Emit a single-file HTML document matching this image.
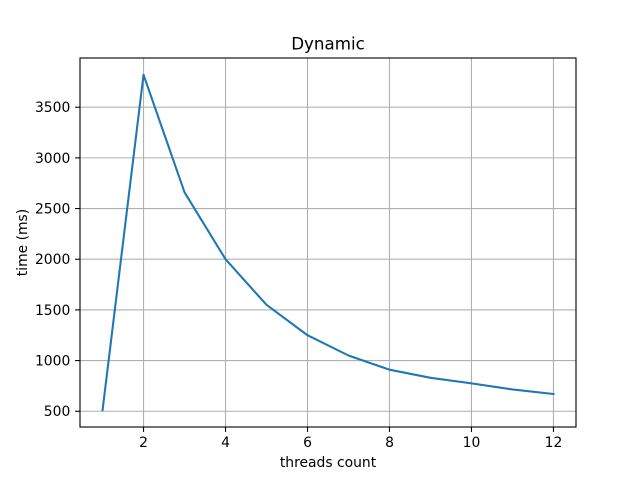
<!DOCTYPE html>
<html><head><meta charset="utf-8"><style>
body{margin:0;background:#fff;}
svg text{font-family:"DejaVu Sans","Liberation Sans",sans-serif;fill:#000;}
</style></head><body>
<svg width="640" height="480" viewBox="0 0 640 480">
<rect width="640" height="480" fill="#fff"/>
<g id="grid"></g>
<g id="ticks"></g>
<path id="line" fill="none" stroke="#1f77b4" stroke-width="2.08" stroke-linejoin="round" stroke-linecap="square"/>
<rect x="80" y="58" width="496" height="369" fill="none" stroke="#000" stroke-width="1.1"/>
<text x="328" y="49.5" font-size="16.7" text-anchor="middle">Dynamic</text>
<text x="328" y="467" font-size="13.9" text-anchor="middle">threads count</text>
<text transform="translate(27,242.5) rotate(-90)" font-size="13.9" text-anchor="middle">time (ms)</text>
</svg>
<script>
const threads=[1,2,3,4,5,6,7,8,9,10,11,12];
const times=[510,3820,2660,2000,1550,1250,1050,910,830,775,715,670];
const xTicks=[2,4,6,8,10,12];
const yTicks=[500,1000,1500,2000,2500,3000,3500];
const NS="http://www.w3.org/2000/svg";
function sx(v){return 80+(v-0.45)/(12.55-0.45)*496;}
function sy(v){return 427-(v-344.5)/(3985.5-344.5)*369;}
const grid=document.getElementById('grid'),ticks=document.getElementById('ticks');
function mk(tag,attrs,parent){const e=document.createElementNS(NS,tag);for(const k in attrs)e.setAttribute(k,attrs[k]);parent.appendChild(e);return e;}
xTicks.forEach(t=>{const x=sx(t);
 const g=mk('line',{x1:x,x2:x,y1:58,y2:427,stroke:'#b0b0b0','stroke-width':1.1},grid);
 
 
 mk('line',{x1:x,x2:x,y1:427,y2:431.9,stroke:'#000','stroke-width':1.1},ticks);
 const tx=mk('text',{x:x,y:447,'font-size':13.9,'text-anchor':'middle'},ticks);tx.textContent=t;
 
 
});
yTicks.forEach(t=>{const y=sy(t);
 const g=mk('line',{x1:80,x2:576,y1:y,y2:y,stroke:'#b0b0b0','stroke-width':1.1},grid);
 
 
 mk('line',{x1:75.1,x2:80,y1:y,y2:y,stroke:'#000','stroke-width':1.1},ticks);
 const tx=mk('text',{x:70.3,y:y+5,'font-size':13.9,'text-anchor':'end'},ticks);tx.textContent=t;
 
 
});
document.getElementById('line').setAttribute('d',threads.map((t,i)=>(i?'L':'M')+sx(t)+','+sy(times[i])).join(' '));
</script>
</body></html>
